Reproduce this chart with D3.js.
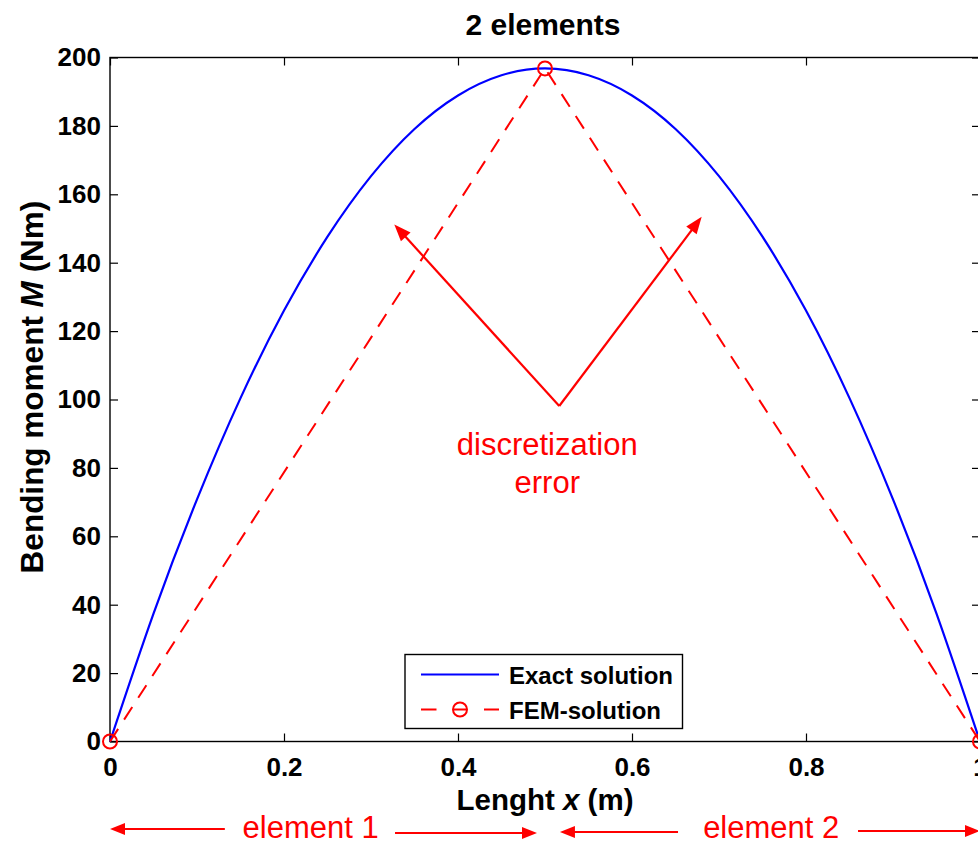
<!DOCTYPE html>
<html>
<head>
<meta charset="utf-8">
<script src="https://cdn.jsdelivr.net/npm/d3@7"></script>
<style>
  html, body { margin: 0; padding: 0; background: #fff; }
  svg { display: block; }
  text { font-family: "Liberation Sans", Arial, Helvetica, sans-serif; }
</style>
</head>
<body>
<svg id="chart" width="978" height="845"></svg>
<script>
// ---------- data ----------
const xExact = [0, 0.05, 0.1, 0.15, 0.2, 0.25, 0.3, 0.35, 0.4, 0.45, 0.5,
                0.55, 0.6, 0.65, 0.7, 0.75, 0.8, 0.85, 0.9, 0.95, 1];
const mExact = [0, 37.4, 70.8, 100.4, 126.0, 147.6, 165.3, 179.1, 188.9, 194.8, 196.8,
                194.8, 188.9, 179.1, 165.3, 147.6, 126.0, 100.4, 70.8, 37.4, 0];
const xFem = [0, 0.5, 1];
const mFem = [0, 196.8, 0];

const xTicks = [0, 0.2, 0.4, 0.6, 0.8, 1];
const xTickLabels = ["0", "0.2", "0.4", "0.6", "0.8", "1"];
const yTicks = [0, 20, 40, 60, 80, 100, 120, 140, 160, 180, 200];
const yTickLabels = ["0", "20", "40", "60", "80", "100", "120", "140", "160", "180", "200"];

const titleText = "2 elements";
const legendLabels = ["Exact solution", "FEM-solution"];

// annotation arrows (data coordinates): V vertex and two tips
const errVertex = [0.5164, 98.1];
const errTips = [[0.3268, 151.2], [0.6801, 153.4]];
// element span arrows along the bottom (x in data units): [from, to]
const elemArrows = [[0.132, 0.0], [0.3276, 0.4908], [0.6529, 0.5172], [0.8598, 1.0]];
const elemLabels = [{t: "element 1", x: 0.2306}, {t: "element 2", x: 0.7600}];

// ---------- layout ----------
const svg = d3.select("#chart");
const L = 110, R = 980, T = 57.5, B = 741.5;
const x = d3.scaleLinear().domain([0, 1]).range([L, R]);
const y = d3.scaleLinear().domain([0, 200]).range([B, T]);

const red = "#ff0000", blue = "#0000ff";

// frame
svg.append("rect").attr("x", L).attr("y", T).attr("width", R - L).attr("height", B - T)
  .attr("fill", "none").attr("stroke", "#000").attr("stroke-width", 1.4);

// axes with inward ticks
const fmtX = (d) => xTickLabels[xTicks.indexOf(d)];
const fmtY = (d) => yTickLabels[yTicks.indexOf(d)];

const gx = svg.append("g").attr("transform", `translate(0,${B})`)
  .call(d3.axisBottom(x).tickValues(xTicks).tickFormat(fmtX).tickSizeInner(-8).tickSizeOuter(0).tickPadding(16));
const gxTop = svg.append("g").attr("transform", `translate(0,${T})`)
  .call(d3.axisTop(x).tickValues(xTicks).tickFormat("").tickSizeInner(-8).tickSizeOuter(0));
const gy = svg.append("g").attr("transform", `translate(${L},0)`)
  .call(d3.axisLeft(y).tickValues(yTicks).tickFormat(fmtY).tickSizeInner(-8).tickSizeOuter(0).tickPadding(9));
const gyR = svg.append("g").attr("transform", `translate(${R},0)`)
  .call(d3.axisRight(y).tickValues(yTicks).tickFormat("").tickSizeInner(-8).tickSizeOuter(0));

[gx, gxTop, gy, gyR].forEach(g => {
  g.select(".domain").remove();
  g.selectAll(".tick line").attr("stroke", "#000").attr("stroke-width", 1.2);
  g.selectAll("text").attr("font-size", 26).attr("font-weight", "bold").attr("fill", "#000")
    .style("font-family", '"Liberation Sans", Arial, sans-serif');
});
gx.selectAll("text").attr("dy", "0.71em");

// title
svg.append("text").attr("x", 543).attr("y", 35).attr("text-anchor", "middle")
  .attr("font-size", 30).attr("font-weight", "bold").text(titleText);

// x label
const xl = svg.append("text").attr("x", x(0.5)).attr("y", 810).attr("text-anchor", "middle")
  .attr("font-size", 29.5).attr("font-weight", "bold");
xl.append("tspan").text("Lenght ");
xl.append("tspan").attr("font-style", "italic").text("x");
xl.append("tspan").text(" (m)");

// y label
const yl = svg.append("text").attr("transform", `translate(43,387) rotate(-90)`)
  .attr("text-anchor", "middle").attr("font-size", 31.5).attr("font-weight", "bold");
yl.append("tspan").text("Bending moment ");
yl.append("tspan").attr("font-style", "italic").text("M");
yl.append("tspan").text(" (Nm)");

// exact solution curve
const exactPts = xExact.map((d, i) => [d, mExact[i]]);
const line = d3.line().x(d => x(d[0])).y(d => y(d[1])).curve(d3.curveNatural);
svg.append("path").datum(exactPts).attr("d", line)
  .attr("fill", "none").attr("stroke", blue).attr("stroke-width", 2.2);

// FEM solution
const femPts = xFem.map((d, i) => [d, mFem[i]]);
svg.append("path").datum(femPts).attr("d", d3.line().x(d => x(d[0])).y(d => y(d[1])))
  .attr("fill", "none").attr("stroke", red).attr("stroke-width", 2).attr("stroke-dasharray", "15,11");
svg.selectAll("circle.fem").data(femPts).enter().append("circle").attr("class", "fem")
  .attr("cx", d => x(d[0])).attr("cy", d => y(d[1])).attr("r", 7)
  .attr("fill", "none").attr("stroke", red).attr("stroke-width", 2);

// arrow helper
function arrow(x1, y1, x2, y2, len, hw, sw) {
  const dx = x2 - x1, dy = y2 - y1, d = Math.hypot(dx, dy);
  const ux = dx / d, uy = dy / d;
  const bx = x2 - ux * len, by = y2 - uy * len;
  svg.append("line").attr("x1", x1).attr("y1", y1).attr("x2", bx + ux * 2).attr("y2", by + uy * 2)
    .attr("stroke", red).attr("stroke-width", sw);
  svg.append("path")
    .attr("d", `M${x2},${y2}L${bx - uy * hw},${by + ux * hw}L${bx + uy * hw},${by - ux * hw}Z`)
    .attr("fill", red);
}

// discretization error arrows
errTips.forEach(t => arrow(x(errVertex[0]), y(errVertex[1]), x(t[0]), y(t[1]), 17, 6.5, 2.2));
svg.append("text").attr("x", x(errVertex[0]) - 12).attr("y", 455).attr("text-anchor", "middle")
  .attr("font-size", 31).attr("fill", red).text("discretization");
svg.append("text").attr("x", x(errVertex[0]) - 12).attr("y", 493).attr("text-anchor", "middle")
  .attr("font-size", 31).attr("fill", red).text("error");

// element arrows along the bottom
const arrowY = [829, 833, 832, 831];
elemArrows.forEach((a, i) => arrow(x(a[0]), arrowY[i], x(a[1]), arrowY[i], 15, 6, 2.2));
elemLabels.forEach(e => {
  svg.append("text").attr("x", x(e.x)).attr("y", 838).attr("text-anchor", "middle")
    .attr("font-size", 31).attr("fill", red).text(e.t);
});

// legend
const lg = svg.append("g");
lg.append("rect").attr("x", 405).attr("y", 654.5).attr("width", 277.5).attr("height", 74)
  .attr("fill", "#fff").attr("stroke", "#000").attr("stroke-width", 1.4);
lg.append("line").attr("x1", 421).attr("x2", 499).attr("y1", 674.5).attr("y2", 674.5)
  .attr("stroke", blue).attr("stroke-width", 2.2);
lg.append("line").attr("x1", 421).attr("x2", 436.5).attr("y1", 709.5).attr("y2", 709.5)
  .attr("stroke", red).attr("stroke-width", 2);
lg.append("line").attr("x1", 484).attr("x2", 499).attr("y1", 709.5).attr("y2", 709.5)
  .attr("stroke", red).attr("stroke-width", 2);
lg.append("circle").attr("cx", 460).attr("cy", 709.5).attr("r", 7)
  .attr("fill", "none").attr("stroke", red).attr("stroke-width", 2);
lg.append("line").attr("x1", 453).attr("x2", 467).attr("y1", 709.5).attr("y2", 709.5)
  .attr("stroke", red).attr("stroke-width", 2);
legendLabels.forEach((t, i) => {
  lg.append("text").attr("x", 509).attr("y", 684 + i * 35).attr("font-size", 24)
    .attr("font-weight", "bold").text(t);
});
</script>
</body>
</html>
